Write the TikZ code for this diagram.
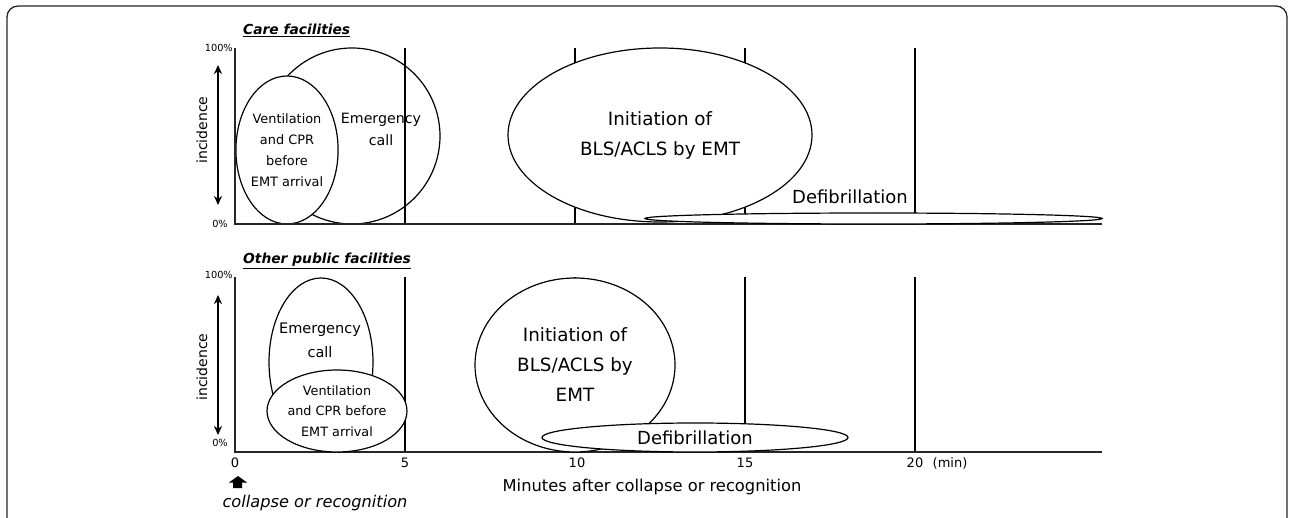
\documentclass[tikz,border=0pt]{standalone}
\usepackage{fontspec}
\setmainfont{DejaVu Sans}
\usetikzlibrary{shapes.geometric,arrows.meta}
\begin{document}
\begin{tikzpicture}[x=1pt,y=-1pt,
  oval/.style={ellipse, draw, line width=1.2pt, inner sep=0pt, fill=white},
  vline/.style={line width=1.8pt},
  axisline/.style={line width=1.2pt, black!85},
  txt/.style={align=center, inner sep=0pt},
  ttl/.style={inner sep=0pt, anchor=base west, font=\fontsize{13.8}{15}\selectfont\bfseries\itshape},
  pct/.style={inner sep=0pt, font=\fontsize{9.8}{11}\selectfont},
  tick/.style={inner sep=0pt, font=\fontsize{13}{14}\selectfont},
  incarrow/.style={line width=2pt, {Stealth[length=9pt,width=8pt]}-{Stealth[length=9pt,width=8pt]}},
  inclabel/.style={inner sep=0pt, rotate=90, font=\fontsize{14}{16}\selectfont}]
\useasboundingbox (0,0) rectangle (1289,518);
\clip (0,0) rectangle (1289,518);
% frame
\draw[line width=1.3pt, black!85, rounded corners=11pt] (7,6) rectangle (1287,540);

% ===== top panel =====
\node[ttl] (t1) at (243,35) {\underline{Care facilities}};
\node[pct, anchor=east] (p1a) at (233,48) {100\%};
\node[pct, anchor=east] (p1b) at (228,224) {0\%};
\coordinate (ia1) at (218,65);
\coordinate (ib1) at (218,205);
\draw[incarrow] (ia1) -- (ib1);
\node[inclabel] (inc1) at (202,130) {incidence};

\node[oval, fill=none, minimum width=176pt, minimum height=176pt] (emg1) at (352,136) {};
\node[txt, font=\fontsize{14.2}{22}\selectfont] (emg1t) at (381,129) {Emergency\\call};
\node[oval, minimum width=102pt, minimum height=148pt, font=\fontsize{12.9}{21}\selectfont, align=center] (ven1) at (287,150) {Ventilation\\and CPR\\before\\EMT arrival};

\draw[vline] (405,48) -- (405,224);
\draw[vline] (575,48) -- (575,224);
\draw[vline] (745,48) -- (745,224);
\draw[vline] (915,48) -- (915,224);
\draw[axisline] (235,48) -- (235,224) -- (1102,224);

\node[oval, minimum width=304pt, minimum height=174pt, font=\fontsize{18.3}{30}\selectfont, align=center] (bls1) at (660,135) {Initiation of\\BLS/ACLS by EMT};
\node[oval, minimum width=457pt, minimum height=11pt] (def1) at (873.5,218.5) {};
\node[txt, font=\fontsize{18}{20}\selectfont] (def1t) at (850,197) {Defibrillation};

% ===== bottom panel =====
\node[ttl] (t2) at (243,264) {\underline{Other public facilities}};
\node[pct, anchor=east] (p2a) at (233,275) {100\%};
\node[pct, anchor=east] (p2b) at (228,443) {0\%};
\coordinate (ia2) at (218,295);
\coordinate (ib2) at (218,435);
\draw[incarrow] (ia2) -- (ib2);
\node[inclabel] (inc2) at (202,367) {incidence};

\draw[vline] (405,277) -- (405,452);
\draw[vline] (575,277) -- (575,452);
\draw[vline] (745,277) -- (745,452);
\draw[vline] (915,277) -- (915,452);
\draw[axisline] (235,277) -- (235,452) -- (1102,452);

\node[oval, minimum width=104pt, minimum height=168pt] (emg2) at (321,362) {};
\node[txt, font=\fontsize{14.5}{24}\selectfont] (emg2t) at (320,340) {Emergency\\call};
\node[oval, minimum width=136pt, minimum height=82pt, font=\fontsize{12.8}{20.5}\selectfont, align=center] (ven2) at (337,411) {Ventilation\\and CPR before\\EMT arrival};

\node[oval, minimum width=200pt, minimum height=174pt, font=\fontsize{18.3}{30}\selectfont, align=center] (bls2) at (575,365) {Initiation of\\BLS/ACLS by\\EMT};
\node[oval, minimum width=306pt, minimum height=29pt, font=\fontsize{18}{20}\selectfont] (def2) at (695,437.5) {Defibrillation};

% x axis ticks
\node[tick] (x0) at (235,463) {0};
\node[tick] (x5) at (405,463) {5};
\node[tick] (x10) at (577,463) {10};
\node[tick] (x15) at (745,463) {15};
\node[tick] (x20) at (915,463) {20};
\node[tick] (xmin) at (950,463) {(min)};
\node[inner sep=0pt, font=\fontsize{16.3}{18}\selectfont] (xlab) at (652,487) {Minutes after collapse or recognition};

% collapse arrow
\fill (238,476) -- (247,482.5) -- (242,482.5) -- (242,488) -- (233,488) -- (233,482.5) -- (229,482.5) -- cycle;
\node[inner sep=0pt, font=\fontsize{16.2}{18}\selectfont\itshape] (col) at (315,503) {collapse or recognition};
\end{tikzpicture}
\end{document}
